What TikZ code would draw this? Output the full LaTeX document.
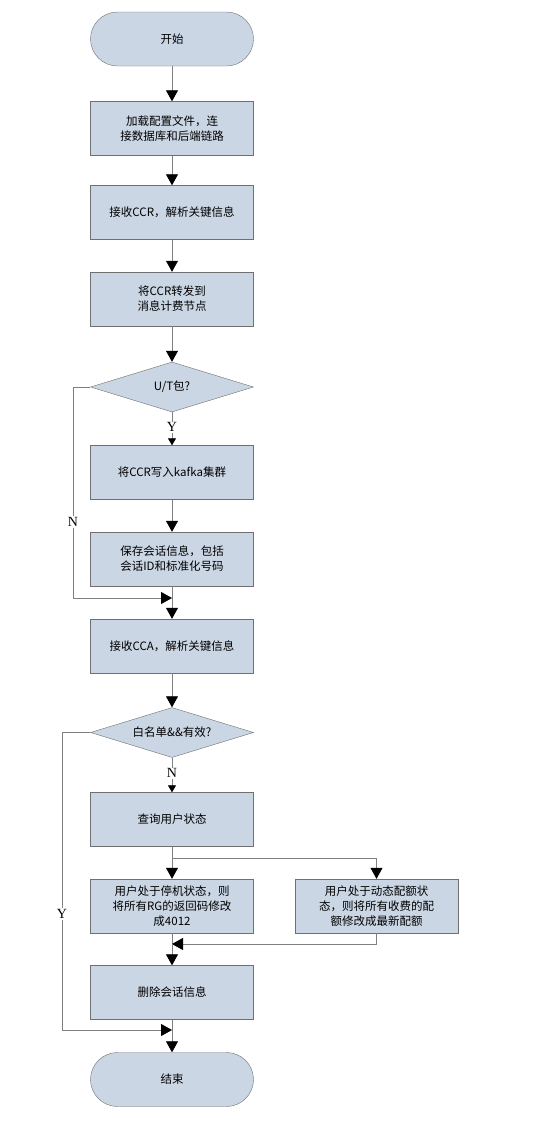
\documentclass[tikz,border=0pt]{standalone}
\usepackage{fontspec}
\setmainfont{Liberation Serif}
\newfontfamily\cjk{Noto Sans CJK SC}
\usetikzlibrary{shapes.geometric,arrows.meta}
\definecolor{boxfill}{HTML}{CAD6E4}
\definecolor{boxline}{HTML}{707070}
\definecolor{linecol}{HTML}{808080}
\begin{document}
\begin{tikzpicture}[x=1pt,y=-1pt,
  box/.style={draw=boxline, fill=boxfill, minimum width=163pt, minimum height=54pt,
    inner sep=0pt, font=\cjk\fontsize{11.5}{15}\selectfont, align=center, text width=150pt},
  term/.style={box, rounded corners=27pt},
  dia/.style={draw=boxline, fill=boxfill, diamond, aspect=3.26, minimum width=163pt,
    minimum height=50pt, inner sep=0pt, font=\cjk\fontsize{11.5}{15}\selectfont},
  conn/.style={draw=linecol, line width=0.8pt, -{Triangle[length=11pt,width=12pt,color=black]}},
  sconn/.style={draw=linecol, line width=0.8pt, -{Triangle[length=7pt,width=8pt,color=black]}},
  lbl/.style={fill=white, inner sep=1pt, font=\fontsize{14}{16}\selectfont}
]
\useasboundingbox (0,0) rectangle (534,1128);
\node[term] (start) at (172,39) {开始};
\node[box] (b1) at (172,128.5) {加载配置文件，连\\接数据库和后端链路};
\node[box] (b2) at (172,212.5) {接收CCR，解析关键信息};
\node[box] (b3) at (172,299) {将CCR转发到\\消息计费节点};
\node[dia] (d1) at (172,387) {U/T包?};
\node[box] (kafka) at (172,472.5) {将CCR写入kafka集群};
\node[box] (save) at (172,559) {保存会话信息，包括\\会话ID和标准化号码};
\node[box] (cca) at (172,646) {接收CCA，解析关键信息};
\node[dia] (d2) at (172,732.5) {白名单\&\&有效?};
\node[box] (query) at (172,819.5) {查询用户状态};
\node[box] (left) at (172,906) {用户处于停机状态，则\\将所有RG的返回码修改\\成4012};
\node[box] (right) at (376.5,906) {用户处于动态配额状\\态，则将所有收费的配\\额修改成最新配额};
\node[box] (del) at (172,992.5) {删除会话信息};
\node[term] (end) at (172,1079.5) {结束};

\coordinate (m1) at (172,598);
\coordinate (n1) at (73,387);
\coordinate (n2) at (73,598);
\coordinate (y1) at (62,732.5);
\coordinate (y2) at (62,1030);
\coordinate (m2) at (172,1030);
\coordinate (s1) at (172,858);
\coordinate (s2) at (376.5,858);
\coordinate (j1) at (376.5,944);
\coordinate (j2) at (172,944);

\draw[conn] (start) -- (b1);
\draw[conn] (b1) -- (b2);
\draw[conn] (b2) -- (b3);
\draw[conn] (b3) -- (d1);
\draw[sconn] (d1) -- node[lbl, pos=0.45] (ly) {Y} (kafka);
\draw[conn] (kafka) -- (save);
\draw[draw=linecol, line width=0.8pt] (save) -- (m1);
\draw[conn] (m1) -- (cca);
\draw[conn] (d1.west) -- (n1) -- node[lbl, pos=0.64] (ln) {N} (n2) -- (m1);
\draw[conn] (cca) -- (d2);
\draw[sconn] (d2) -- node[lbl, pos=0.45] (ln2) {N} (query);
\draw[draw=linecol, line width=0.8pt] (query) -- (s1);
\draw[conn] (s1) -- (left);
\draw[conn] (s1) -- (s2) -- (right);
\draw[draw=linecol, line width=0.8pt] (left) -- (j2);
\draw[conn] (right.south) -- (j1) -- (j2);
\draw[conn] (j2) -- (del);
\draw[draw=linecol, line width=0.8pt] (del) -- (m2);
\draw[conn] (m2) -- (end);
\draw[conn] (d2.west) -- (y1) -- node[lbl, pos=0.61] (ly2) {Y} (y2) -- (m2);
\end{tikzpicture}
\end{document}
